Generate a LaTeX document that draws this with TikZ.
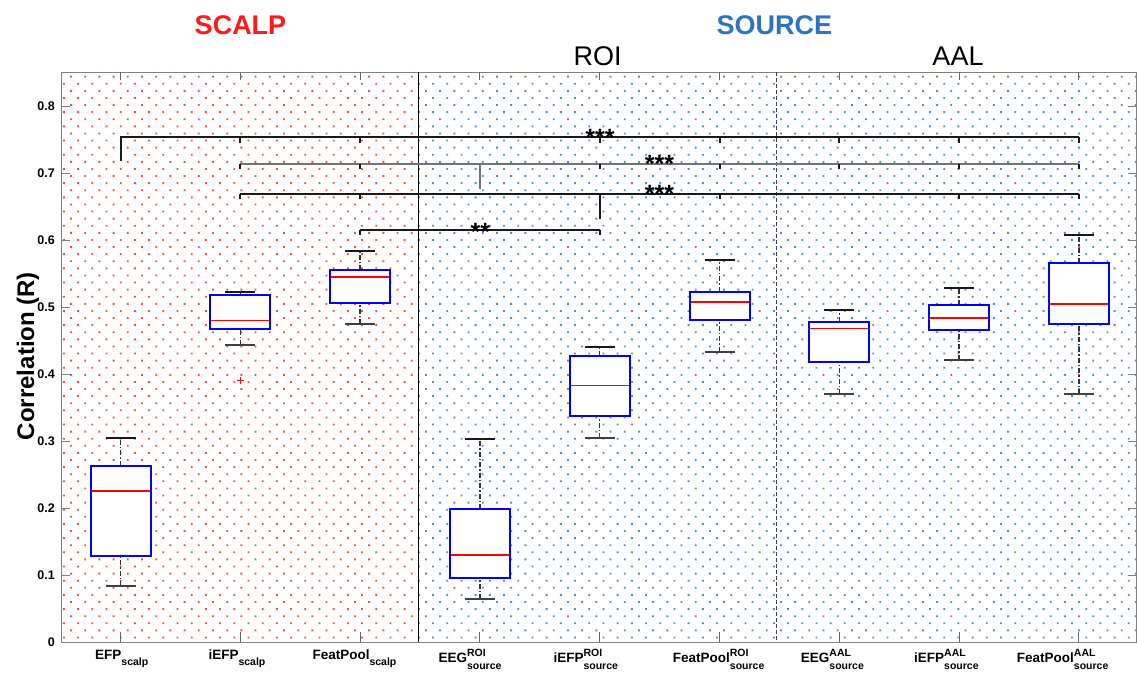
\documentclass[tikz,border=0pt]{standalone}
\usepackage{fontspec}
\setmainfont{Liberation Sans}
\usetikzlibrary{patterns.meta}
\definecolor{scalpred}{HTML}{FF1A1A}
\definecolor{srcblue}{HTML}{2E72C4}
\definecolor{dotred}{HTML}{FF4A4A}
\definecolor{dotblue}{HTML}{5A8AD6}
\newcommand\bplot[6]{%
  \draw[whisk] (#1,{642-670*#5}) -- (#1,{642-670*#6});
  \draw[whisk] (#1,{642-670*#2}) -- (#1,{642-670*#3});
  \draw[wcap] ({#1-15},{642-670*#6}) -- ({#1+15},{642-670*#6});
  \draw[wcapl] ({#1-15},{642-670*#2}) -- ({#1+15},{642-670*#2});
  \draw[bxstyle] ({#1-30},{642-670*#3}) rectangle ({#1+30},{642-670*#5});
  \draw[mdn] ({#1-29},{642-670*#4}) -- ({#1+29},{642-670*#4});
}
\newcommand\xlsc[2]{#1\raisebox{-6pt}{\fontsize{10.5}{11}\selectfont #2}}
\newcommand\xlso[3]{#1\rlap{\raisebox{6.5pt}{\fontsize{10.5}{11}\selectfont #2}}\raisebox{-7pt}{\fontsize{10.5}{11}\selectfont #3}}
\begin{document}
\begin{tikzpicture}[x=1pt,y=-1pt,
  whisk/.style={draw=black!80,line width=1.5pt,dash pattern=on 5pt off 2pt on 1.5pt off 2pt},
  wcap/.style={draw=black!90,line width=2pt},
  wcapl/.style={draw=black!75,line width=2pt},
  bxstyle/.style={draw=blue,fill=white,line width=2pt},
  mdn/.style={draw=red,line width=1.8pt},
  frm/.style={draw=black!50,line width=1pt},
  sig/.style={draw=black!90,line width=2pt},
  sigg/.style={draw=black!55,line width=2pt},
  star/.style={font=\bfseries\fontsize{25}{26}\selectfont,anchor=base,inner sep=0pt},
  ttl/.style={font=\fontsize{27}{30}\selectfont,anchor=base,inner sep=0pt},
  ytk/.style={font=\bfseries\fontsize{12.5}{13}\selectfont,anchor=east,inner sep=0pt},
  xtk/.style={font=\bfseries\fontsize{13.5}{15}\selectfont,anchor=base west,inner sep=0pt}]
\useasboundingbox (0,0) rectangle (1137,673);
% dotted backgrounds
\fill[pattern={Dots[angle=45,distance=10.04pt,radius=1.3pt]},pattern color=dotred] (61,72) rectangle (418.3,642);
\fill[pattern={Dots[angle=45,distance=10.04pt,radius=1.3pt]},pattern color=dotblue] (418.3,72) rectangle (1136.5,642);
% frame
\draw[frm] (61,72) rectangle (1136.5,642);
\foreach \v in {0,0.1,0.2,0.3,0.4,0.5,0.6,0.7,0.8}{
  \draw[frm] (61,{642-670*\v}) -- (70,{642-670*\v});
  \draw[frm] (1136.5,{642-670*\v}) -- (1127.5,{642-670*\v});
}
\foreach \x in {120.5,240.3,360.1,479.9,599.7,719.5,839.3,959.1,1078.9}{
  \draw[black!60,line width=1pt] (\x,642) -- (\x,632);
  \draw[black!60,line width=1pt] (\x,72) -- (\x,80);
}
% separators
\draw[black,line width=1.2pt] (418.3,72) -- (418.3,642);
\draw[black!75,line width=1.3pt,dash pattern=on 4pt off 2pt] (776.7,72) -- (776.7,642);
% boxplots
\bplot{120.5}{0.083}{0.128}{0.225}{0.263}{0.305}
\bplot{240.3}{0.443}{0.467}{0.480}{0.518}{0.523}
\bplot{360.1}{0.474}{0.506}{0.545}{0.555}{0.584}
\bplot{479.9}{0.064}{0.096}{0.130}{0.1985}{0.303}
\bplot{599.7}{0.304}{0.338}{0.383}{0.427}{0.441}
\bplot{719.5}{0.433}{0.480}{0.508}{0.523}{0.570}
\bplot{839.3}{0.370}{0.418}{0.468}{0.478}{0.496}
\bplot{959.1}{0.421}{0.466}{0.484}{0.503}{0.529}
\bplot{1078.9}{0.370}{0.474}{0.504}{0.565}{0.607}
% outlier
\draw[red,line width=1.2pt] (236.8,380.7) -- (243.8,380.7) (240.3,377.2) -- (240.3,384.2);
% significance brackets
\draw[sig] (120.5,161.3) -- (120.5,137.3) -- (1078.9,137.3);
\foreach \x in {240.3,360.1,599.7,719.5,839.3,959.1,1078.9}{\draw[sig] (\x,137.3) -- (\x,142.5);}
\draw[sigg] (240.3,164) -- (1078.9,164);
\draw[sigg] (479.9,164) -- (479.9,189);
\foreach \x in {240.3,360.1,599.7,719.5,839.3,959.1,1078.9}{\draw[sig] (\x,164) -- (\x,169.2);}
\draw[sig] (240.3,193.7) -- (1078.9,193.7);
\draw[sig] (599.7,193.7) -- (599.7,219);
\foreach \x in {240.3,360.1,719.5,959.1,1078.9}{\draw[sig] (\x,193.7) -- (\x,198.9);}
\draw[sig] (360.1,230) -- (599.7,230);
\foreach \x in {360.1,599.7}{\draw[sig] (\x,230) -- (\x,235.2);}
\node[star] (s1) at (600,146) {***};
\node[star] (s2) at (659.5,172.6) {***};
\node[star] (s3) at (659.5,202.6) {***};
\node[star] (s4) at (480.3,240) {**};
% titles
\node[ttl,font=\bfseries\fontsize{27}{30}\selectfont,text=scalpred] (scalp) at (240.5,34.3) {SCALP};
\node[ttl,font=\bfseries\fontsize{27}{30}\selectfont,text=srcblue] (source) at (774.3,34.3) {SOURCE};
\node[ttl] (roi) at (597.5,65) {ROI};
\node[ttl] (aal) at (958,65) {AAL};
% y axis
\node[font=\bfseries\fontsize{24}{26}\selectfont,rotate=90] (ylab) at (28,356) {Correlation (R)};
\foreach \v/\t in {0/0,0.1/0.1,0.2/0.2,0.3/0.3,0.4/0.4,0.5/0.5,0.6/0.6,0.7/0.7,0.8/0.8}{
  \node[ytk] at (55,{642-670*\v}) {\t};
}
% x tick labels
\node[xtk] (l1) at (95,659.3) {\xlsc{EFP}{scalp}};
\node[xtk] (l2) at (208.3,659.3) {\xlsc{iEFP}{scalp}};
\node[xtk] (l3) at (312.3,659.3) {\xlsc{FeatPool}{scalp}};
\node[xtk] (l4) at (438.3,662.7) {\xlso{EEG}{ROI}{source}};
\node[xtk] (l5) at (553.3,662.7) {\xlso{iEFP}{ROI}{source}};
\node[xtk] (l6) at (672.7,662.7) {\xlso{FeatPool}{ROI}{source}};
\node[xtk] (l7) at (800.7,662.7) {\xlso{EEG}{AAL}{source}};
\node[xtk] (l8) at (914,662.7) {\xlso{iEFP}{AAL}{source}};
\node[xtk] (l9) at (1016.7,662.7) {\xlso{FeatPool}{AAL}{source}};
\end{tikzpicture}
\end{document}
